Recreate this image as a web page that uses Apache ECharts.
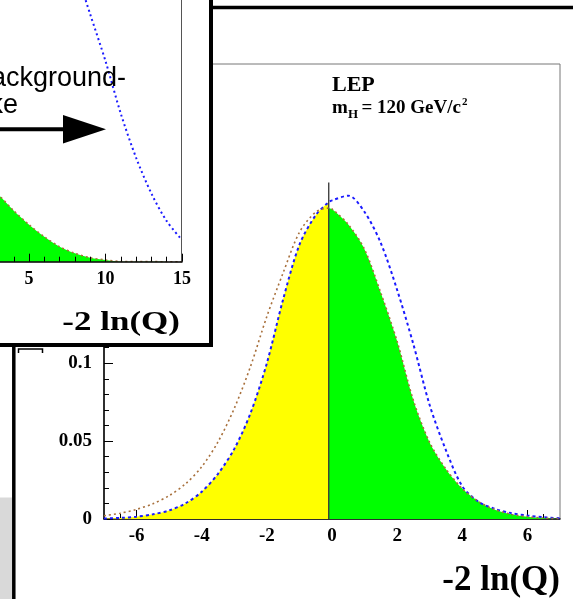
<!DOCTYPE html>
<html><head><meta charset="utf-8">
<script src="https://cdn.jsdelivr.net/npm/echarts@6/dist/echarts.min.js"></script>
<style>html,body{margin:0;padding:0;background:#fff;overflow:hidden}#c{width:573px;height:599px}</style>
</head><body><div id="c"></div>
<script>
// ---- main panel data (x = -2 ln(Q)) ----
const xMain   = [-7,-6.5,-6,-5.5,-5,-4.5,-4,-3.5,-3,-2.5,-2,-1.5,-1,-0.5,-0.1,0,0.5,1,1.5,2,2.5,3,3.5,4,4.5,5,5.5,6,6.5,7];
const bkgMain = [0.0003,0.0007,0.0015,0.003,0.0055,0.010,0.0175,0.029,0.045,0.068,0.100,0.141,0.176,0.195,0.2034,0.2045,0.2075,0.197,0.177,0.147,0.112,0.073,0.044,0.021,0.011,0.0065,0.0038,0.0022,0.0011,0.0005];
const sbMain  = [0.0021,0.0037,0.0062,0.0098,0.015,0.0225,0.0335,0.0495,0.071,0.098,0.130,0.158,0.184,0.197,0.1995,0.199,0.189,0.173,0.145,0.114,0.076,0.049,0.032,0.0195,0.0112,0.006,0.003,0.0014,0.0006,0.00025];
const observed = -0.1;
const observedTop = 0.216;
const xMajorTicks = [-6,-4,-2,0,2,4,6];
const xMinorTicks = [-6.5,-5.5,-5,-4.5,-3.5,-3,-2.5,-1.5,-1,-0.5,0.5,1,1.5,2.5,3,3.5,4.5,5,5.5,6.5];
// ---- inset panel data ----
const insetSBx  = [2,3,4,5,6,7,8,9,10,11,12,13,14,15];
const insetSB   = [0.041,0.0335,0.0255,0.0185,0.0125,0.0075,0.0042,0.002,0.0009,0.00015,0.0001,0.00005,0.00003,0.00002];
const insetBkgX = [8,9,10,11,12,13,14,15];
const insetBkg  = [0.1475,0.1237,0.1003,0.074,0.052,0.0341,0.0203,0.0109];
const insetMajorTicks = [5,10,15];
const insetMinorTicks = [4,6,7,8,9,11,12,13,14];
// ---- texts ----
const axisTitle = '-2 ln(Q)';
const expLabel = 'LEP';
const massLabel = ['m','H','= 120 GeV/c','2'];
const insetText = ['background-','like'];

const serif = '"Liberation Serif","Times New Roman",serif';
const yellowData = xMain.map((x,i)=>[x,bkgMain[i]]).filter(p=>p[0]<=observed);
const greenData  = xMain.map((x,i)=>[x,sbMain[i]]).filter(p=>p[0]>=observed);
const lbl = {fontFamily:serif,fontWeight:'bold',fontSize:19,color:'#000'};
const blackTick = {color:'#000',width:1};

const chart = echarts.init(document.getElementById('c'),null,{renderer:'canvas'});
chart.setOption({
  animation:false,
  backgroundColor:'#fff',
  grid:[
    {left:104,right:13,top:64,bottom:80,show:true,borderColor:'#777',borderWidth:1,backgroundColor:'transparent'},
    {left:0,right:391,top:0,bottom:337.3,show:false,z:52}
  ],
  xAxis:[
    {gridIndex:0,type:'value',min:-7,max:7,
     axisLine:{onZero:false,lineStyle:{color:'#000',width:1.5}},
     axisTick:{inside:true,length:9,customValues:xMajorTicks,lineStyle:blackTick},
     axisLabel:Object.assign({margin:8,customValues:xMajorTicks},lbl),
     splitLine:{show:false}},
    {gridIndex:0,type:'value',min:-7,max:7,position:'bottom',
     axisLine:{show:false,onZero:false},
     axisTick:{inside:true,length:5,customValues:xMinorTicks,lineStyle:blackTick},
     axisLabel:{show:false},splitLine:{show:false}},
    {gridIndex:1,type:'value',min:3.1,max:15,z:60,
     axisLine:{onZero:false,lineStyle:{color:'#000',width:1.5}},
     axisTick:{inside:true,length:8,customValues:insetMajorTicks,lineStyle:blackTick},
     axisLabel:Object.assign({margin:9,customValues:insetMajorTicks},lbl,{fontSize:18}),
     splitLine:{show:false}},
    {gridIndex:1,type:'value',min:3.1,max:15,z:60,position:'bottom',
     axisLine:{show:false,onZero:false},
     axisTick:{inside:true,length:5,customValues:insetMinorTicks,lineStyle:blackTick},
     axisLabel:{show:false},splitLine:{show:false}}
  ],
  yAxis:[
    {gridIndex:0,type:'value',min:0,max:0.292,interval:0.05,
     axisLine:{show:true,onZero:false,lineStyle:{color:'#000',width:1.5}},
     axisTick:{show:true,inside:true,length:9,lineStyle:blackTick},
     minorTick:{show:true,splitNumber:5,length:5,lineStyle:blackTick},
     axisLabel:Object.assign({margin:12,showMaxLabel:false},lbl),
     splitLine:{show:false}},
    {gridIndex:1,type:'value',min:0,max:0.1309,show:false,axisLine:{onZero:false}}
  ],
  series:[
    {type:'line',xAxisIndex:0,yAxisIndex:0,data:yellowData,smooth:0.3,symbol:'none',z:1,
     lineStyle:{width:0},areaStyle:{color:'#ffff00',opacity:1}},
    {type:'line',xAxisIndex:0,yAxisIndex:0,data:greenData,smooth:0.3,symbol:'none',z:1,
     lineStyle:{width:0},areaStyle:{color:'#00ff00',opacity:1}},
    {type:'line',xAxisIndex:0,yAxisIndex:0,data:[[observed,0],[observed,observedTop]],symbol:'none',z:3,
     lineStyle:{color:'#333',width:1.3}},
    {type:'line',xAxisIndex:0,yAxisIndex:0,data:xMain.map((x,i)=>[x,bkgMain[i]]),smooth:0.3,symbol:'none',z:4,
     lineStyle:{color:'#1a1aff',width:2,type:[3,3]}},
    {type:'line',xAxisIndex:0,yAxisIndex:0,data:xMain.map((x,i)=>[x,sbMain[i]]),smooth:0.3,symbol:'none',z:4,
     lineStyle:{color:'#a8703c',width:1.6,type:[2,3]}},
    {type:'line',xAxisIndex:2,yAxisIndex:1,data:insetSBx.map((x,i)=>[x,insetSB[i]]),smooth:0.3,symbol:'none',z:55,
     lineStyle:{color:'#a8703c',width:1.5,type:[2,3]},areaStyle:{color:'#00ff00',opacity:1}},
    {type:'line',xAxisIndex:2,yAxisIndex:1,data:insetBkgX.map((x,i)=>[x,insetBkg[i]]),smooth:0.3,symbol:'none',z:56,
     lineStyle:{color:'#1a1aff',width:2,type:[2,3]}}
  ],
  graphic:{elements:[
    {type:'rect',z:49,shape:{x:0,y:497.5,width:12,height:110},style:{fill:'#d9d9d9'}},
    {type:'line',z:50,shape:{x1:13.8,y1:345,x2:13.8,y2:610},style:{stroke:'#000',lineWidth:3.5}},
    {type:'line',z:50,shape:{x1:211,y1:7.5,x2:590,y2:7.5},style:{stroke:'#000',lineWidth:3.5}},
    {type:'polyline',z:50,shape:{points:[[18.5,353],[18.5,349],[42.5,349],[42.5,353]]},style:{stroke:'#000',lineWidth:1.5,fill:null}},
    {type:'rect',z:50,shape:{x:-10,y:-10,width:221,height:355},style:{fill:'#fff',stroke:'#000',lineWidth:4}},
    {type:'line',z:57,shape:{x1:181.5,y1:-5,x2:181.5,y2:261.7},style:{stroke:'#555',lineWidth:1}},
    {type:'text',z:70,x:126,y:78.6,style:{text:insetText[0],font:'27px "Liberation Sans",Arial,sans-serif',fill:'#000',textAlign:'right',verticalAlign:'middle'}},
    {type:'text',z:70,x:18,y:105.6,style:{text:insetText[1],font:'27px "Liberation Sans",Arial,sans-serif',fill:'#000',textAlign:'right',verticalAlign:'middle'}},
    {type:'line',z:70,shape:{x1:-5,y1:129.3,x2:65,y2:129.3},style:{stroke:'#000',lineWidth:4}},
    {type:'polygon',z:70,shape:{points:[[63,115],[63,143.5],[106,129.3]]},style:{fill:'#000'}},
    {type:'text',z:70,x:180,y:323,scaleY:0.78,style:{text:axisTitle,font:'bold 35px '+serif,fill:'#000',textAlign:'right',verticalAlign:'middle'}},
    {type:'text',z:70,x:560,y:580.5,style:{text:axisTitle,font:'bold 35px '+serif,fill:'#000',textAlign:'right',verticalAlign:'middle'}},
    {type:'text',z:70,x:332,y:85.8,style:{text:expLabel,font:'bold 22px '+serif,fill:'#000',textAlign:'left',verticalAlign:'middle'}},
    {type:'text',z:70,x:332,y:107.8,style:{text:massLabel[0],font:'bold 19px '+serif,fill:'#000',textAlign:'left',verticalAlign:'middle'}},
    {type:'text',z:70,x:348,y:114.7,style:{text:massLabel[1],font:'bold 13px '+serif,fill:'#000',textAlign:'left',verticalAlign:'middle'}},
    {type:'text',z:70,x:361.5,y:107.8,style:{text:massLabel[2],font:'bold 19px '+serif,fill:'#000',textAlign:'left',verticalAlign:'middle'}},
    {type:'text',z:70,x:462,y:102,style:{text:massLabel[3],font:'bold 11px '+serif,fill:'#000',textAlign:'left',verticalAlign:'middle'}}
  ]}
});
</script></body></html>
